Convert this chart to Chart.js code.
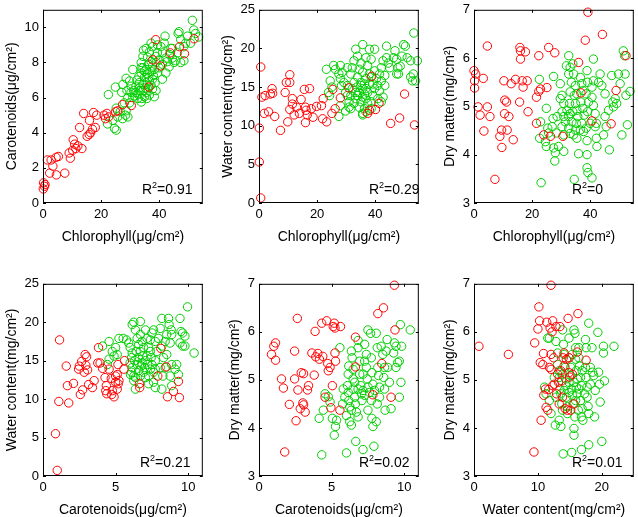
<!DOCTYPE html>
<html>
<head>
<meta charset="utf-8">
<title>Pigments, water and dry matter</title>
<script src="https://cdn.jsdelivr.net/npm/chart.js@4.4.0/dist/chart.umd.min.js"></script>
<style>
    html, body { margin: 0; padding: 0; background: #fff; }
    #figure { position: relative; width: 638px; height: 517px; overflow: hidden; }
    .panel { position: absolute; }
</style>
</head>
<body>
<div id="figure">
    <div class="panel" style="left:0px;top:-2px;width:208px;height:248px"><canvas id="c1"></canvas></div>
    <div class="panel" style="left:216px;top:-2px;width:208px;height:248px"><canvas id="c2"></canvas></div>
    <div class="panel" style="left:431px;top:-2px;width:208px;height:248px"><canvas id="c3"></canvas></div>
    <div class="panel" style="left:0px;top:272px;width:208px;height:247px"><canvas id="c4"></canvas></div>
    <div class="panel" style="left:216px;top:272px;width:208px;height:247px"><canvas id="c5"></canvas></div>
    <div class="panel" style="left:431px;top:272px;width:208px;height:247px"><canvas id="c6"></canvas></div>
</div>
<script>
// --- datos ---

// ticks
const chlTicks = [0, 20, 40];
const carTicksX = [0, 5, 10];
const waterTicksX = [0, 10, 20];
const carTicksY = [0, 2, 4, 6, 8, 10];
const waterTicksY = [0, 5, 10, 15, 20, 25];
const dryTicks = [3, 4, 5, 6, 7];

const r2Values = ['0.91', '0.29', '0', '0.21', '0.02', '0.01'];

// 1. Chlorophyll vs Carotenoids
const p1RedChl = [0.2,0.5,0.1,0.7,1.5,2.3,3.4,4.5,5.3,4.6,7.5,2.8,9,9.4,10.2,10.4,10.9,11.3,12,13.4,12.6,14,15.2,15.9,16,16.4,17,18,17.4,18.5,21,21.5,22,22.6,25,25.7,27.4,30.4,36.4,38.8,37.8,40.4,43.8,47,48.7,52];
const p1RedCar = [1.15,0.95,0.8,1.05,2.45,1.7,2.1,2.6,2.65,1.6,1.7,2.45,2.85,2.55,3.0,3.6,3.35,3.1,3.25,3.1,4.3,5.1,3.8,3.9,4.7,4.0,4.2,4.3,5.15,5.0,5.0,4.8,5.1,4.9,5.2,5.25,5.6,5.55,6.6,9.3,8.15,7.8,8.55,8.9,8.5,9.35];
const p1GreenChl = [22.5,24.9,22.2,24.6,25.2,24,25.7,26.6,27.4,28.4,
    28.6,28,27.1,27.5,28.9,28.6,29.8,30.9,30.3,31.2,
    32,31.5,32.6,33.2,32.3,33,33.8,34.4,33.8,34.4,
    34.6,35.5,36.6,34,34.9,35.5,36,35.5,36.6,34.9,
    36,37.2,35.5,36.3,37.2,37.7,38,38.6,37.7,38.9,
    39.4,40,38.9,40,41.1,40.6,41.7,42,42.8,43.6,
    42.3,43.4,44.5,45.1,46.3,46.5,46.8,47.4,48.5,49.1,
    49.7,50.8,51.4,51.9,52.5,53.6,48.5,47.4,45.7,44,
    39.4,37.7,33.2,32,30.3,29.2,32.6,33.8,29.2,25.2,
    36.6,38.3,41.1,37.2,38.3,38.9,36,37.2,44.5,42.3,
    41.1,34.4,35.3,36.4,37.7,34.4,33.5,35.7,30.9,29.8,
    34.9,33.8,39.4];
const p1GreenCar = [6.17,6.6,4.5,4.25,4.15,4.7,4.9,5.2,4.8,5.0,
    5.25,5.7,6.3,6.75,6.4,7.1,6.95,7.6,6.3,6.4,
    6.65,6.1,6.2,6.55,7.0,7.2,7.4,7.7,8.0,8.35,
    8.7,8.8,8.6,5.95,6.05,6.3,6.5,6.85,6.95,7.15,
    7.35,7.5,7.6,7.9,8.05,7.8,7.25,6.85,6.5,6.4,
    7.4,7.7,8.35,8.15,8.55,8.9,9.1,9.5,8.05,8.45,
    7.4,7.75,8.25,8.0,8.55,9.65,9.75,9.3,8.9,9.1,
    9.5,9.1,10.4,9.85,9.65,9.45,8.1,8.0,8.1,8.8,
    9.0,8.9,6.85,6.3,6.65,6.0,5.95,5.75,4.9,5.4,
    6.15,6.05,7.05,6.7,7.6,8.0,8.3,9.1,8.8,8.25,
    7.9,6.75,6.55,7.15,7.05,6.4,6.4,5.95,6.0,5.7,
    7.5,7.7,8.55];

// 2. Chlorophyll vs Water content
const p2RedChl = [0.6,0.1,0.1,0.6,1,2.1,1.8,3.3,3.9,4.7,
    4.5,5.4,7.4,9,9.4,10.6,10.6,9.9,10.6,11.5,
    11.5,12.1,12.9,13.9,14.5,15.6,17.4,16,16.2,16.6,
    18,18.6,19.8,16,21.5,21.9,23.3,22.1,25.4,25.1,
    26.2,28,30.9,37.4,38,38.8,40.1,41.3,45.3,48.4,
    50.1,53.5];
const p2RedWater = [17.6,9.7,5.3,0.65,13.7,13.9,11.6,11.8,14.1,14.2,
    14.8,11.2,9.4,14.3,15.6,16.6,15.6,10.5,12.1,13.5,
    12.8,11.4,12.4,11.6,13.4,14.7,14.8,12.4,12.0,11.4,
    12.2,11.1,12.5,10.4,12.6,10.9,10.5,13.5,14.7,11.6,
    12.2,13.6,14.9,11.6,12.0,16.4,12.1,12.9,10.3,11.0,
    14.1,10.1];
const p2GreenChl = [23.2,24.5,25.1,23.9,24.3,25.7,26.3,28,27.5,28,
    28.6,28.4,29.2,27.5,28,29.8,30.4,31,31,31.6,
    30.4,31.6,32.7,32.1,33.3,33.9,35.7,35.1,34.5,35.7,
    33.9,35.1,33.7,34.5,35.7,36.3,33.3,35.1,34.5,35.7,
    36.3,36.8,37.4,36.8,38,37.4,38.6,39.8,39.2,38.6,
    39.8,40.9,40.4,41.5,39.8,42.1,42.7,43.9,43.9,44.5,
    45,43.3,42.7,42.1,40.9,46.3,46.8,47.4,47.8,48,
    48.6,49.2,49.8,50.4,51,52.2,53.3,53.1,52.2,53.9,
    52.8,54.5,47.4,36.8,38,32.7,32.1,33.9,35.7,37.4,
    36.8,38,36.3,35.1,33.3,39.2,38.6,41.5,43.3,42.1,
    35.7,36.8,38.6,29.8,30.4,31.6,32.7];
const p2GreenWater = [17.3,15.8,15.0,14.3,13.9,17.8,17.3,17.8,16.7,16.1,
    16.9,15.2,15.6,11.2,12.6,14.3,13.9,13.1,12.4,12.2,
    17.5,16.7,15.6,14.8,19.9,19.0,20.5,18.1,17.3,16.9,
    16.3,15.6,15.0,14.3,14.8,15.4,13.5,13.1,12.4,11.6,
    12.2,13.5,14.3,16.1,16.7,17.8,18.6,19.9,13.9,13.1,
    14.8,15.2,16.1,16.7,17.1,17.5,18.4,20.3,18.8,18.1,
    17.5,15.2,13.7,13.1,13.5,18.8,19.7,18.6,17.5,16.7,
    17.7,19.0,20.5,20.3,18.8,18.4,22.0,16.7,16.3,15.8,
    15.8,18.4,16.7,18.8,19.9,18.4,17.5,13.9,13.7,12.9,
    14.8,15.4,14.1,15.2,14.3,15.4,16.3,14.5,16.5,15.8,
    11.4,11.8,12.2,11.9,15.2,13.9,12.9];

// 3. Chlorophyll vs Dry matter
const p3RedChl = [0,0.6,0.2,0.2,1.4,2.1,3.2,3.4,4.6,4.6,
    5.5,7.2,8.9,9.5,9.6,10.3,10.6,11.2,10.5,11.4,
    12,12.8,13.5,14.3,15.7,15.8,16,16,16.6,17.7,
    16.9,18.3,18.6,21.5,22.3,22.9,21.5,22.3,24,25.1,
    25.7,26.3,27.8,30.6,36,36.8,38.3,39.2,40.6,44.2,
    47.2,48.9,52.3];
const p3RedDry = [5.74,5.67,5.53,5.38,4.99,4.82,5.58,4.49,6.25,4.99,
    4.79,3.49,4.38,4.51,4.15,5.53,5.13,5.09,4.85,4.51,
    4.79,5.47,4.31,5.56,5.09,6.22,6.15,5.98,5.53,6.13,
    5.4,5.53,4.89,5.19,5.31,5.36,4.65,6.05,4.41,5.39,
    6.22,4.38,6.11,4.38,5.91,5.28,6.37,6.95,4.7,6.49,
    4.64,5.33,6.05];
const p3GreenChl = [23.1,22.5,22.9,22.6,24.6,24.9,24.9,25.4,25.7,27.2,
    26.9,27.4,28,27.8,27.4,28.6,28.3,29.1,29.7,29.7,
    30.3,30.9,30.3,30.9,30.3,30.9,30.9,31.8,32.6,32.6,
    33.1,33.5,33.1,32.9,32,32.6,33.1,33.7,32.6,33.1,
    34.3,34,34.3,34.9,34.5,34.9,35.4,35.7,35.2,34.9,
    35.4,34.5,36,36.6,37.1,37.5,36.8,37.5,37.9,37.1,
    36.6,37.7,38.9,39.1,38.6,39.4,39.1,38.6,38.9,38.9,
    38.9,39.2,40.6,40.6,41.1,40.6,41.1,41.7,42.1,41.7,
    42.1,42.3,41.1,42.9,43.4,44,45.1,45.1,45.5,44.6,
    46.3,46.6,47.4,47.8,48,48.6,49.1,49.7,50.3,50.9,
    51.4,51.8,52,52.3,52.8,53.7,40,35.4,31.4,34];
const p3GreenDry = [3.42,5.56,4.68,4.34,4.27,4.17,4.96,4.55,4.45,4.75,
    4.58,4.14,4.04,3.87,5.62,4.79,4.45,4.17,5.47,5.16,
    5.23,5.06,4.89,4.79,4.58,4.41,4.07,5.84,6.05,5.67,
    5.81,5.5,5.3,5.06,4.92,4.79,4.85,4.68,4.55,4.44,
    4.41,5.88,5.67,5.43,5.23,5.06,4.92,4.79,4.65,4.51,
    4.34,3.49,4.02,5.6,5.47,5.33,5.09,4.96,4.82,4.65,
    4.51,4.48,5.74,5.5,5.26,5.09,4.89,4.55,4.29,4.0,
    3.73,3.63,3.52,5.4,5.53,5.19,5.02,4.85,4.65,4.58,
    4.34,4.17,5.98,5.5,5.67,5.43,5.26,4.79,4.58,4.41,
    4.92,4.1,5.64,5.09,4.99,5.16,5.06,5.67,5.47,4.41,
    6.15,6.05,5.67,5.23,4.62,5.31,4.65,5.26,4.68,4.89];

// 4. Carotenoids vs Water content
const p4RedCar = [1.14,0.86,0.98,1.09,1.6,1.68,1.77,2.1,2.45,2.5,
    2.66,2.57,2.73,2.84,2.95,2.9,3.0,3.07,3.14,3.4,
    3.52,3.82,3.77,3.93,4.1,4.27,4.36,4.32,4.39,4.55,
    4.73,4.77,4.89,5.0,5.0,5.11,5.18,5.23,5.16,5.57,
    5.61,6.64,6.66,7.9,8.11,8.48,8.57,8.98,9.32,9.39,
    5.11,4.7];
const p4RedWater = [17.7,5.5,0.73,9.7,14.3,11.75,9.5,12.05,13.9,14.3,
    14.9,10.6,11.2,13.5,14.4,15.8,15.5,13.8,11.9,11.5,
    12.4,16.7,14.7,14.7,14.0,12.8,11.75,11.1,10.7,13.9,
    10.6,11.1,10.3,13.0,12.2,11.3,12.0,12.4,14.5,13.9,
    15.0,12.0,11.5,13.0,16.6,14.2,10.3,11.0,12.3,10.2,
    13.2,12.7];
const p4GreenCar = [4.1,4.55,4.55,4.43,4.77,4.89,5.11,5.0,5.23,5.52,
    5.75,5.9,6.0,6.14,6.1,6.0,6.14,6.1,6.25,6.25,
    6.36,6.25,6.7,6.48,6.59,6.7,6.55,6.48,6.59,6.7,
    6.82,6.93,6.86,7.05,7.0,6.93,7.16,7.27,7.39,7.5,
    7.61,7.73,7.45,7.5,7.39,7.61,7.73,7.84,7.61,7.73,
    7.95,8.07,8.18,8.18,8.3,8.41,8.25,8.52,8.64,8.68,
    8.82,8.86,8.75,8.86,8.75,8.86,9.09,9.2,9.43,9.5,
    9.61,9.43,9.61,9.77,9.77,9.95,10.4,6.14,6.36,6.7,
    7.05,7.16,6.82,7.2,7.05,7.27,8.07,8.52,8.41,7.73,
    7.39,6.32,6.41,6.77,6.36,6.02,8.18,9.32,7.27];
const p4GreenWater = [16.9,17.5,15.2,14.5,16.2,15.6,15.8,16.7,17.9,17.9,
    17.7,17.3,16.7,16.0,15.4,14.7,14.1,13.5,13.0,12.4,
    11.3,20.0,20.1,17.9,17.1,16.2,15.4,14.5,13.7,13.0,
    17.5,16.7,15.6,15.0,14.1,13.5,15.6,16.7,17.7,18.6,
    19.0,17.5,15.4,14.5,13.9,13.5,15.0,16.2,12.2,11.5,
    17.9,19.2,20.5,16.9,15.4,14.1,13.0,18.4,20.5,19.7,
    19.0,18.4,17.3,14.5,13.0,11.75,13.9,14.5,20.5,18.8,
    18.6,17.3,16.9,16.9,18.2,22.0,16.0,19.7,19.0,18.4,
    19.0,17.9,14.7,14.5,12.8,13.0,14.1,15.8,17.5,13.9,
    16.2,15.0,16.2,14.3,12.8,13.2,11.3,13.2,12.0];

// 5. Carotenoids vs Dry matter
const p5RedCar = [0.86,1.02,1.14,1.14,1.55,1.68,1.77,2.09,2.45,2.45,
    2.55,2.64,2.68,2.84,2.91,3.07,3.02,3.07,3.18,3.34,
    3.41,3.64,3.8,3.86,3.91,4.05,4.16,4.32,4.39,4.55,
    4.66,4.73,4.77,4.89,4.95,5.05,5.11,5.18,5.23,5.23,
    5.27,5.57,5.61,6.64,6.64,7.84,8.18,8.45,8.57,9.09,
    9.36,9.32];
const p5RedDry = [5.53,5.7,5.77,5.41,5.02,4.83,3.5,4.49,5.6,5.02,
    4.15,6.28,4.79,4.4,5.15,5.13,4.52,4.48,4.33,4.79,
    4.88,5.56,5.1,6.01,5.48,5.55,5.43,6.18,5.49,4.64,
    6.23,5.34,5.19,5.26,4.42,4.88,6.11,6.18,6.08,5.56,
    5.39,4.37,6.11,5.89,5.27,4.69,6.38,5.34,6.5,4.64,
    6.04,6.97];
const p5GreenCar = [4.32,4.14,4.43,4.55,4.77,4.89,5.05,5.18,5.27,5.34,
    5.57,5.75,6.02,6.02,6.09,6.14,6.18,6.25,6.25,6.36,
    6.36,6.41,6.48,6.48,6.48,6.59,6.64,6.7,6.66,6.82,
    6.82,6.93,6.93,7.0,7.05,7.09,7.16,7.27,7.39,7.39,
    7.45,7.5,7.5,7.5,7.68,7.73,7.77,7.84,7.73,7.77,
    7.84,7.91,8.07,8.14,8.18,8.23,8.3,8.14,8.07,8.41,
    8.52,8.59,8.64,8.68,8.82,8.86,8.98,9.09,9.27,9.32,
    9.43,9.43,9.55,9.66,9.73,9.77,9.82,10.41,9.66,6.82,
    6.59,7.16,7.27,7.61,7.95,8.3,6.14,5.91,5.8,6.36,
    6.82,7.16,8.64,8.75,7.27,6.18];
const p5GreenDry = [3.44,4.2,4.37,4.71,4.65,4.54,4.2,3.85,4.03,4.16,
    5.67,4.5,4.26,3.48,4.88,5.12,4.57,4.44,4.13,4.06,
    5.6,5.46,5.22,5.02,4.81,4.64,4.5,4.33,3.72,5.82,
    5.67,5.39,5.12,4.88,4.71,4.57,3.55,5.74,5.53,5.26,
    5.02,4.85,4.37,6.04,5.97,5.46,5.15,4.91,4.57,4.2,
    4.03,3.62,5.97,5.67,5.26,5.09,4.85,4.5,4.13,5.7,
    5.53,5.05,4.81,4.37,5.84,5.26,4.95,4.4,5.56,5.77,
    5.7,5.26,5.36,4.64,6.15,4.95,5.7,6.04,5.39,4.81,
    4.95,4.78,4.68,4.74,4.78,4.64,4.74,4.64,4.81,4.37,
    4.23,5.12,5.26,5.6,5.39,5.29];

// 6. Water content vs Dry matter
const p6RedWater = [0.77,5.38,9.38,9.49,10.15,10.26,10.0,10.36,10.5,10.77,
    10.87,10.92,11.18,11.28,11.38,11.54,11.69,11.79,11.9,12.05,
    12.05,12.05,12.21,12.31,12.31,12.46,12.56,12.82,12.92,13.08,
    13.23,13.33,13.44,13.59,13.74,13.85,13.95,14.1,14.1,14.26,
    14.46,14.62,14.72,14.87,14.97,15.13,15.38,15.64,16.15,16.26,
    17.54,14.87];
const p6RedDry = [5.7,5.53,3.5,5.77,6.52,6.23,6.06,5.36,4.16,5.32,
    5.55,4.68,4.81,4.43,6.2,4.37,4.8,5.26,6.08,6.97,
    5.22,5.53,6.0,6.23,4.88,5.46,4.91,6.11,4.71,5.12,
    4.95,4.5,6.11,5.19,4.98,4.64,5.46,5.56,5.29,4.4,
    5.43,4.37,6.28,5.46,5.06,4.37,5.12,4.5,5.58,6.38,
    5.41,5.15];
const p6GreenWater = [11.54,11.03,11.28,11.79,12.05,11.79,12.72,13.59,13.33,12.82,
    13.08,13.08,13.33,13.33,13.44,13.59,13.74,13.85,13.85,14.0,
    14.1,14.26,14.36,14.36,14.46,14.62,14.62,13.95,14.87,14.87,
    15.13,15.13,15.28,15.38,15.49,15.28,15.64,15.79,15.9,15.9,
    16.0,16.15,16.0,16.15,15.9,15.79,15.64,15.64,16.41,16.51,
    16.67,16.82,16.67,16.92,16.82,17.03,16.82,17.44,17.54,17.44,
    17.54,17.69,17.69,17.85,17.95,17.95,17.95,18.21,18.46,18.56,
    18.72,18.87,18.97,19.38,19.49,19.64,19.74,20.0,20.26,20.26,
    20.41,21.9,16.41,15.64,14.87,14.1,13.85,12.56,12.82,14.87,
    15.38,17.28,16.92,16.31,18.21,16.41];
const p6GreenDry = [5.87,4.85,4.71,4.57,4.3,5.87,4.06,4.03,4.16,5.8,
    5.56,5.32,5.19,5.05,4.81,4.71,4.5,4.37,6.04,5.74,
    5.53,5.26,5.02,4.88,4.64,4.44,4.3,3.46,5.87,5.46,
    5.26,5.09,4.81,4.68,4.5,3.49,6.04,5.97,5.67,5.43,
    5.19,5.02,4.85,4.71,4.57,4.23,3.99,3.85,5.67,5.29,
    5.05,4.88,4.57,4.4,4.23,4.16,3.55,5.84,5.67,5.26,
    5.05,4.85,4.64,4.45,4.3,3.65,6.18,5.26,5.67,5.16,
    5.09,4.23,4.78,5.99,5.16,4.91,4.54,3.72,5.7,5.56,
    4.98,5.7,5.46,4.95,4.74,4.78,5.12,5.05,4.64,4.95,
    5.53,4.71,5.19,4.37,4.91,4.81];

// --- configuracion de los 6 paneles ---
const FONT = "'Liberation Sans', Arial, Helvetica, sans-serif";
const RED = 'rgb(255,0,0)';
const GREEN = 'rgb(0,205,0)';

const panels = [
    { id: 'c1', xTitle: 'Chlorophyll(μg/cm²)', yTitle: 'Carotenoids(μg/cm²)',
      xMax: 55, yMin: 0, yMax: 11, xTicks: chlTicks, yTicks: carTicksY,
      red: [p1RedChl, p1RedCar], green: [p1GreenChl, p1GreenCar], r2: r2Values[0], r2Left: 99, yPad: 3.6 },
    { id: 'c2', xTitle: 'Chlorophyll(μg/cm²)', yTitle: 'Water content(mg/cm²)',
      xMax: 55, yMin: 0, yMax: 25, xTicks: chlTicks, yTicks: waterTicksY,
      red: [p2RedChl, p2RedWater], green: [p2GreenChl, p2GreenWater], r2: r2Values[1], r2Left: 110, yPad: 3.6 },
    { id: 'c3', xTitle: 'Chlorophyll(μg/cm²)', yTitle: 'Dry matter(mg/cm²)',
      xMax: 55, yMin: 3, yMax: 7, xTicks: chlTicks, yTicks: dryTicks,
      red: [p3RedChl, p3RedDry], green: [p3GreenChl, p3GreenDry], r2: r2Values[2], r2Left: 98, yPad: 10.6 },
    { id: 'c4', xTitle: 'Carotenoids(μg/cm²)', yTitle: 'Water content(mg/cm²)',
      xMax: 11, yMin: 0, yMax: 25, xTicks: carTicksX, yTicks: waterTicksY,
      red: [p4RedCar, p4RedWater], green: [p4GreenCar, p4GreenWater], r2: r2Values[3], r2Left: 97, yPad: 3.6 },
    { id: 'c5', xTitle: 'Carotenoids(μg/cm²)', yTitle: 'Dry matter(mg/cm²)',
      xMax: 11, yMin: 3, yMax: 7, xTicks: carTicksX, yTicks: dryTicks,
      red: [p5RedCar, p5RedDry], green: [p5GreenCar, p5GreenDry], r2: r2Values[4], r2Left: 100, yPad: 10.6 },
    { id: 'c6', xTitle: 'Water content(mg/cm²)', yTitle: 'Dry matter(mg/cm²)',
      xMax: 25, yMin: 3, yMax: 7, xTicks: waterTicksX, yTicks: dryTicks,
      red: [p6RedWater, p6RedDry], green: [p6GreenWater, p6GreenDry], r2: r2Values[5], r2Left: 98, yPad: 10.6 }
];

function toPoints(xs, ys) {
    return xs.map((x, i) => ({ x: x, y: ys[i] }));
}

// caja negra + ticks hacia dentro + texto R^2
const framePlugin = {
    id: 'frame',
    afterDatasetsDraw(chart, args, opts) {
        const { ctx, chartArea: a, scales } = chart;
        const len = 3;
        ctx.save();
        ctx.strokeStyle = '#000';
        ctx.lineWidth = 1;
        ctx.beginPath();
        scales.x.ticks.forEach(t => {
            const px = Math.round(scales.x.getPixelForValue(t.value)) + 0.5;
            ctx.moveTo(px, a.bottom); ctx.lineTo(px, a.bottom - len);
            ctx.moveTo(px, a.top); ctx.lineTo(px, a.top + len);
        });
        scales.y.ticks.forEach(t => {
            const py = Math.round(scales.y.getPixelForValue(t.value)) + 0.5;
            ctx.moveTo(a.left, py); ctx.lineTo(a.left + len, py);
            ctx.moveTo(a.right, py); ctx.lineTo(a.right - len, py);
        });
        ctx.stroke();
        ctx.strokeRect(a.left + 0.5, a.top + 0.5, a.width - 1, a.height - 1);

        // R² con el 2 en superindice
        let x = a.left + opts.left;
        const y = a.bottom - 9;
        ctx.fillStyle = '#000';
        ctx.textBaseline = 'alphabetic';
        ctx.textAlign = 'left';
        ctx.font = '14px ' + FONT;
        ctx.fillText('R', x, y);
        x += ctx.measureText('R').width;
        ctx.font = '9px ' + FONT;
        ctx.fillText('2', x, y - 6);
        x += ctx.measureText('2').width;
        ctx.font = '14px ' + FONT;
        ctx.fillText('=' + opts.value, x, y);
        ctx.restore();
    }
};

function renderPanel(p) {
    const ctx = document.getElementById(p.id).getContext('2d');
    return new Chart(ctx, {
        type: 'scatter',
        data: {
            datasets: [
                {
                    label: 'red',
                    data: toPoints(p.red[0], p.red[1]),
                    borderColor: RED,
                    backgroundColor: 'rgba(0,0,0,0)',
                    pointRadius: 4.2,
                    pointHoverRadius: 4.2,
                    borderWidth: 1,
                    clip: false
                },
                {
                    label: 'green',
                    data: toPoints(p.green[0], p.green[1]),
                    borderColor: GREEN,
                    backgroundColor: 'rgba(0,0,0,0)',
                    pointRadius: 4.2,
                    pointHoverRadius: 4.2,
                    borderWidth: 1,
                    clip: false
                }
            ]
        },
        options: {
            responsive: true,
            maintainAspectRatio: false,
            animation: false,
            events: [],
            layout: { padding: { left: 0, top: 8, right: 4, bottom: 0 } },
            plugins: {
                legend: { display: false },
                tooltip: { enabled: false },
                frame: { value: p.r2, left: p.r2Left }
            },
            scales: {
                x: {
                    type: 'linear',
                    min: 0,
                    max: p.xMax,
                    grid: { display: false, drawTicks: false },
                    border: { display: false },
                    ticks: { color: '#000', font: { size: 13 }, padding: 4, maxRotation: 0, callback: v => String(v) },
                    afterBuildTicks: s => { s.ticks = p.xTicks.map(v => ({ value: v })); },
                    afterFit: s => { s.height = 43; },
                    title: { display: true, text: p.xTitle, color: '#000', font: { size: 14 }, padding: 0 }
                },
                y: {
                    type: 'linear',
                    min: p.yMin,
                    max: p.yMax,
                    grid: { display: false, drawTicks: false },
                    border: { display: false },
                    ticks: { color: '#000', font: { size: 13 }, padding: 4, callback: v => String(v) },
                    afterBuildTicks: s => { s.ticks = p.yTicks.map(v => ({ value: v })); },
                    afterFit: s => { s.width = 43; },
                    title: { display: true, text: p.yTitle, color: '#000', font: { size: 14 }, padding: { top: p.yPad, bottom: 0 } }
                }
            }
        },
        plugins: [framePlugin]
    });
}

document.addEventListener('DOMContentLoaded', () => {
    Chart.defaults.font.family = FONT;
    Chart.defaults.color = '#000';
    panels.forEach(renderPanel);
});
</script>
</body>
</html>
